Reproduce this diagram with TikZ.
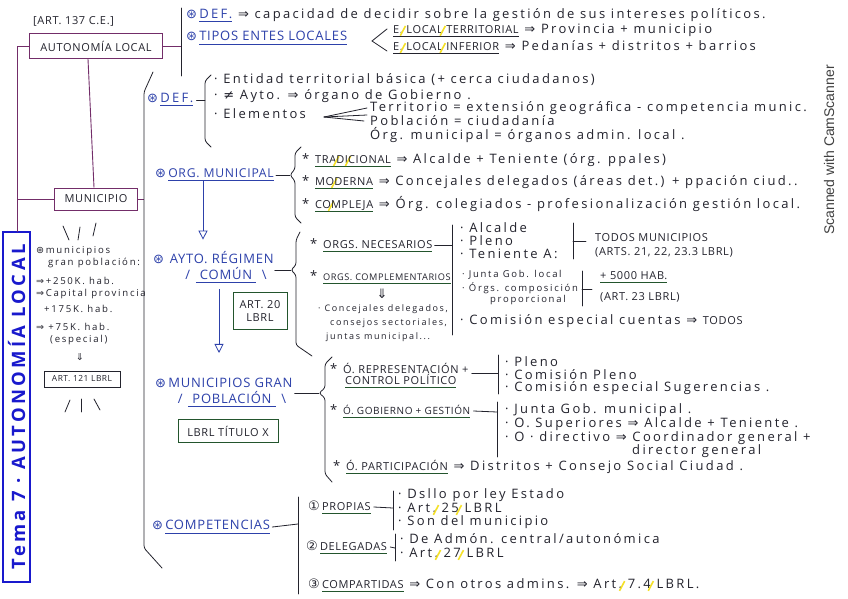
\documentclass[tikz,border=0pt]{standalone}
\usepackage{fontspec}
\usepackage{graphicx}
\setmainfont{Open Sans}[LetterSpace=18]
\newfontfamily\symf{DejaVu Sans}
\newfontfamily\scanf{Liberation Sans}
\usetikzlibrary{arrows.meta}
\definecolor{ink}{RGB}{35,35,45}
\definecolor{pur}{RGB}{115,45,105}
\definecolor{blu}{RGB}{45,65,170}
\definecolor{grn}{RGB}{35,85,45}
\definecolor{hl}{RGB}{245,225,40}
\definecolor{tema}{RGB}{25,25,205}
\newsavebox\ulbox
\newcommand{\ulc}[2]{\sbox\ulbox{#2}\rlap{\color{#1}\rule[-3.5pt]{\wd\ulbox}{0.9pt}}\usebox\ulbox}
\newcommand{\myimp}{{\symf ⇒}}
\newcommand{\myast}{{\symf ⊛}}
\newcommand{\mydn}{{\symf ⇓}}
\newcommand{\myne}{{\symf ≠}}
\newcommand{\myc}[1]{{\symf #1}}
\newcommand{\hs}[2]{{\fontsize{#1}{#1}\selectfont\addfontfeature{LetterSpace=6}#2}}
\newcommand{\hc}[1]{\hs{11}{#1}}
\newcommand{\hb}[1]{\hs{13}{#1}}
\newcommand{\ys}{\makebox[0pt]{\raisebox{-3pt}{\rotatebox{62}{\color{hl}\rule{11pt}{1.6pt}}}}}
\begin{document}
\begin{tikzpicture}[x=1pt,y=-1pt,
  t/.style={anchor=west,inner sep=0pt,text=ink,font=\fontsize{13}{14}\selectfont},
  ts/.style={t,font=\fontsize{9.6}{10}\selectfont},
  tm/.style={t,font=\fontsize{9.5}{10}\selectfont},
  tb/.style={t,text=blu},
  pbox/.style={draw=pur,line width=1pt,inner sep=0pt,text=ink},
  gbox/.style={draw=grn,line width=1pt,inner sep=0pt,text=ink,align=center},
  pl/.style={draw=pur,line width=0.9pt},
  ln/.style={draw=ink,line width=0.8pt,line cap=round,rounded corners=2.5pt},
  arr/.style={draw=blu,line width=0.8pt,-{Triangle[open,length=9pt,width=9pt]}},
]
\fill[white] (0,0) rectangle (848,599);
\useasboundingbox (0,0) rectangle (848,599);

% ---------- top
\node[t] (art137) at (33,21) {\hc{[ART. 137 C.E.]}};
\node[pbox,minimum width=133pt,minimum height=25pt] (aut) at (96,46) {\hc{AUTONOMÍA LOCAL}};
\coordinate (sepT) at (181,8);
\coordinate (sepB) at (181,76);
\draw[ln] (sepT) -- (sepB);
\draw[pl] (aut.east) -- (aut.east -| sepT);
\node[t] (def) at (186,15) {\textcolor{blu}{\myast\,\ulc{blu}{DEF.}} \myimp\ capacidad de decidir sobre la gestión de sus intereses políticos.};
\node[tb] (tipos) at (186,38) {\myast\,\ulc{blu}{\hb{TIPOS ENTES LOCALES}}};
\node[t] (etl) at (393,30) {\ulc{ink}{\hc{E.\ys\ LOCAL\ys\ TERRITORIAL}} \myimp\ Provincia + municipio};
\node[t] (eli) at (393,47) {\ulc{ink}{\hc{E.\ys\ LOCAL\ys\ INFERIOR}} \myimp\ Pedanías + distritos + barrios};
\draw[ln,rounded corners=0pt] ([xshift=-6pt,yshift=1pt]etl.west) -- (372,41) -- ([xshift=-6pt,yshift=-4pt]eli.west);

% ---------- left column
\node[pbox,minimum width=83pt,minimum height=22pt] (mun) at (96,199) {\hc{MUNICIPIO}};
\coordinate (temaNW) at (3,232);
\coordinate (temaSE) at (30,582);
\draw[tema,line width=1.5pt] (temaNW) rectangle (temaSE);
\node[rotate=90,inner sep=0pt,text=tema] (tema) at (16.5,407)
  {\resizebox{325pt}{!}{\fontsize{12}{12}\selectfont\bfseries Tema 7 · AUTONOMÍA LOCAL}};
\coordinate (lc) at (17,232);
\draw[pl] (aut.west) -| (lc);
\draw[pl] (mun.west) -- (mun.west -| lc);
\draw[pl] ([xshift=-8pt]aut.south) -- ([xshift=-2pt]mun.north);
\coordinate (mainT) at (153,72);
\draw[pl] (mun.east) -- (144,199);
\draw[ln] (mainT) -- (144,92) -- (144,548) -- (162,568);

\draw[ln] (63,226) -- (69,240);
\draw[ln] (80,227) -- (78,240);
\draw[ln] (96,223) -- (93,236);
\node[ts] (lp1) at (36,251) {\myast\,municipios};
\node[ts] (lp2) at (48,263) {gran población:};
\node[ts] (lp3) at (36,281) {\myimp\,+250K. hab.};
\node[ts] (lp4) at (36,294) {\myimp\,Capital provincia};
\node[ts] (lp5) at (44,309) {+175K. hab.};
\node[ts] (lp6) at (36,327) {\myimp\ +75K. hab.};
\node[ts] (lp7) at (50,340) {(especial)};
\node[ts,anchor=center] (lp8) at (80,357) {\mydn};
\node[draw=ink,line width=0.9pt,inner sep=0pt,minimum width=76pt,minimum height=16pt,text=ink] (a121) at (82,379) {\hs{8.4}{ART. 121 LBRL}};
\draw[ln] (70,400) -- (65,412);
\draw[ln] (81,399) -- (81,412);
\draw[ln] (94,399) -- (100,410);

% ---------- DEF municipio
\node[tb] (defm) at (147,100) {\myast\,\ulc{blu}{DEF.}};
\draw[ln] (211,75) -- (205,81) -- (205,141) -- (211,147);
\draw[ln] ([xshift=3pt]defm.east) -- (205,100);
\node[t] (d1) at (214,80) {· Entidad territorial básica (+ cerca ciudadanos)};
\node[t] (d2) at (214,96) {· \myne\ Ayto. \myimp\ órgano de Gobierno .};
\node[t] (d3) at (214,114) {· Elementos};
\node[t] (e1) at (370,108) {Territorio = extensión geográfica - competencia munic.};
\node[t] (e2) at (370,121) {Población = ciudadanía};
\node[t] (e3) at (370,135) {Órg. municipal = órganos admin. local .};
\coordinate (fan) at (324,117);
\draw[ln] (fan) -- ([xshift=-3pt]e1.west);
\draw[ln] (fan) -- ([xshift=-3pt,yshift=-7pt]e1.west);
\draw[ln] (fan) -- ([xshift=-6pt]e2.west);

% ---------- ORG municipal
\node[tb] (orgm) at (155,175) {\myast\,\ulc{blu}{\hs{12.2}{ORG. MUNICIPAL}}};
\draw[ln] (301,147) -- (295,153) -- (295,169) -- (290,175) -- (295,181) -- (295,217) -- (301,223);
\draw[ln] ([xshift=2pt]orgm.east) -- (290,175);
\node[t] (o1) at (302,160) {* \ulc{grn}{\hc{TRA\ys DI\ys CIONAL}} \myimp\ Alcalde + Teniente (órg. ppales)};
\node[t] (o2) at (302,182) {* \ulc{grn}{\hc{MO\ys DERNA}} \myimp\ Concejales delegados (áreas det.) + ppación ciud..};
\node[t] (o3) at (302,204) {* \ulc{grn}{\hc{CO\ys MPLEJA}} \myimp\ Órg. colegiados - profesionalización gestión local.};
\coordinate (ax1) at (203,0);

% ---------- AYTO
\node[tb] (ayto) at (153,258) {\myast\ \hb{AYTO. RÉGIMEN}};
\node[tb,anchor=center] (comun) at (226,275) {/\ \ulc{blu}{\hb{\ COMÚN\ }}\ \textbackslash};
\draw[arr] (orgm.south -| ax1) -- ([yshift=12pt]ayto.north -| ax1);
\draw[ln] (300,232) -- (296,240) -- (296,265) -- (291,270) -- (296,275) -- (296,345) -- (312,356);
\draw[ln] ([xshift=1pt,yshift=-12pt]ayto.east) -- (291,270);
\node[gbox,minimum width=54pt,minimum height=37pt] (art20) at (260,311) {\hc{ART. 20}\\[1pt]\hc{LBRL}};
\coordinate (ax2) at (219,0);

\node[t] (nec) at (310,245) {* \ulc{grn}{\hc{ORGS. NECESARIOS}}};
\draw[ln] (452,225) -- (452,335);
\draw[ln] ([xshift=2pt]nec.east) -- (452,245);
\node[t] (cmpl) at (310,277) {* \ulc{grn}{\hs{9.2}{ORGS. COMPLEMENTARIOS}}};
\node[t,anchor=center] (dn1) at (382,294) {\mydn};
\node[t,font=\fontsize{9}{10}\selectfont] (cj1) at (318,309) {· Concejales delegados,};
\node[t,font=\fontsize{9}{10}\selectfont] (cj2) at (330,323) {consejos sectoriales,};
\node[t,font=\fontsize{9}{10}\selectfont] (cj3) at (326,337) {juntas municipal...};

\node[t] (r1) at (460,228) {· Alcalde};
\node[t] (r2) at (460,241) {· Pleno};
\node[t] (r3) at (460,254) {· Teniente A:};
\draw[ln] (573,223) -- (573,259);
\draw[ln] (573,241) -- (586,241);
\node[t] (todos) at (595,238) {\hc{TODOS MUNICIPIOS}};
\node[t] (arts) at (595,252) {\hc{(ARTS. 21, 22, 23.3 LBRL)}};
\node[tm] (r4) at (462,275) {· Junta Gob. local};
\node[tm] (r5) at (462,288) {· Órgs. composición};
\node[tm] (r6) at (490,300) {proporcional};
\draw[ln] (582,271) -- (582,306);
\draw[ln] (582,289) -- (592,289);
\node[t] (h5) at (600,277) {\ulc{grn}{\hc{+ 5000 HAB.}}};
\node[t] (a23) at (600,297) {\hc{(ART. 23 LBRL)}};
\node[t] (r7) at (460,321) {· Comisión especial cuentas \myimp\ \hc{TODOS}};

% ---------- Municipios gran poblacion
\node[tb] (mgp1) at (155,383) {\myast\,\hb{MUNICIPIOS GRAN}};
\node[tb,anchor=center] (mgp2) at (232,399) {/\ \ulc{blu}{\hb{\ POBLACIÓN\ }}\ \textbackslash};
\draw[arr] ([yshift=-6pt]comun.south -| ax2) -- ([yshift=25pt]mgp1.north -| ax2);
\node[gbox,minimum width=100pt,minimum height=23pt] (lbrlx) at (228,431) {\hc{LBRL TÍTULO X}};
\draw[ln] (332,357) -- (325,364) -- (325,388) -- (319,393) -- (325,398) -- (325,474) -- (332,482);
\draw[ln] ([xshift=2pt,yshift=-10pt]mgp1.east) -- (319,393);

\node[t] (rep1) at (330,368) {* \hc{Ó. REPRESENTACIÓN +}};
\node[t] (rep2) at (345,381) {\ulc{grn}{\hc{CONTROL POLÍTICO}}};
\draw[ln] (498,355) -- (498,394);
\draw[ln] ([xshift=3pt,yshift=-5pt]rep1.east) -- (498,373);
\node[t] (p1) at (505,362) {· Pleno};
\node[t] (p2) at (505,375) {· Comisión Pleno};
\node[t] (p3) at (505,388) {· Comisión especial Sugerencias .};
\node[t] (gob) at (330,411) {* \ulc{grn}{\hs{10}{Ó. GOBIERNO + GESTIÓN}}};
\draw[ln] (497,402) -- (497,457);
\draw[ln] ([xshift=3pt]gob.east) -- (497,412);
\node[t] (g1) at (505,410) {· Junta Gob. municipal .};
\node[t] (g2) at (505,424) {· O. Superiores \myimp\ Alcalde + Teniente .};
\node[t] (g3) at (505,438) {· O · directivo \myimp\ Coordinador general +};
\node[t] (g4) at (632,451) {director general};
\node[t] (part) at (333,467) {* \ulc{grn}{\hc{Ó. PARTICIPACIÓN}} \myimp\ Distritos + Consejo Social Ciudad .};

% ---------- Competencias
\node[tb] (cmp) at (152,527) {\myast\,\ulc{blu}{\hb{COMPETENCIAS}}};
\draw[ln] (298,497) -- (298,594);
\draw[ln] ([xshift=2pt]cmp.east) -- (298,524);
\node[t] (pro) at (308,507) {\myc{①}\,\ulc{grn}{\hc{PROPIAS}}};
\draw[ln] (393,491) -- (393,530);
\draw[ln] ([xshift=3pt]pro.east) -- (393,508);
\node[t] (pr1) at (398,495) {· Dsllo por ley Estado};
\node[t] (pr2) at (398,509) {· Art.\ys\ 25\ys\ LBRL};
\node[t] (pr3) at (398,522) {· Son del municipio};
\node[t] (del) at (306,547) {\myc{②}\,\ulc{grn}{\hc{DELEGADAS}}};
\draw[ln] (395,534) -- (395,561);
\draw[ln] ([xshift=3pt]del.east) -- (395,548);
\node[t] (dl1) at (400,539) {· De Admón. central/autonómica};
\node[t] (dl2) at (400,554) {· Art.\ys\ 27\ys\ LBRL};
\node[t] (cpt) at (308,585) {\myc{③}\,\ulc{grn}{\hc{COMPARTIDAS}} \myimp\ Con otros admins. \myimp\ Art.\ys\ 7.4\ys\ LBRL.};

% ---------- scanner mark
\node[rotate=90,inner sep=0pt,text=black!75,font=\scanf\fontsize{14}{14}\selectfont] (scan) at (829,150) {Scanned with CamScanner};
\end{tikzpicture}
\end{document}
